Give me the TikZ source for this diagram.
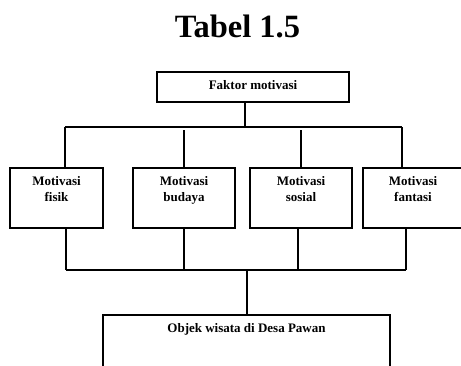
\documentclass[tikz,border=0pt]{standalone}
\usepackage{fontspec}
\setmainfont{Liberation Serif}
\begin{document}
\begin{tikzpicture}[x=1pt,y=-1pt,line width=1.5pt,box/.style={draw,inner sep=0pt},box text/.style={anchor=north,align=center,inner sep=0pt,yshift=-8.5pt,font=\fontsize{13}{16}\selectfont\bfseries}]

	%page frame, bottom box runs off the page
	\useasboundingbox (0,0) rectangle (461,365);
	\clip (0,0) rectangle (461,365);

	%title
	\node[anchor=base, inner sep=0pt, font=\fontsize{32.5}{38}\selectfont\bfseries] (title) at (237.5,37) {Tabel 1.5};

	%boxes
	\node[box, minimum width=192, minimum height=30, label={[box text]north:Faktor motivasi}] (faktor) at (253,87) {};
	\node[box, minimum width=93, minimum height=60, label={[box text]north:Motivasi\\fisik}] (fisik) at (56.5,198) {};
	\node[box, minimum width=102, minimum height=60, label={[box text]north:Motivasi\\budaya}] (budaya) at (184,198) {};
	\node[box, minimum width=102, minimum height=60, label={[box text]north:Motivasi\\sosial}] (sosial) at (301,198) {};
	\node[box, minimum width=100, minimum height=60, label={[box text]north:Motivasi\\fantasi}] (fantasi) at (413,198) {};
	\node[box, minimum width=287, minimum height=85, label={[box text]north:Objek wisata di Desa Pawan}] (objek) at (246.5,357.5) {};

	%upper bus
	\coordinate (topjoin) at (245,127);
	\coordinate (busL) at (65,127);
	\coordinate (busR) at (402,127);
	\draw (faktor.south -| topjoin) -- (topjoin);
	\draw (busL) -- (busR);
	\draw (busL) -- (busL |- fisik.north);
	\draw ([yshift=-3pt]budaya.north |- busL) -- (budaya.north);
	\draw ([yshift=-3pt]sosial.north |- busL) -- (sosial.north);
	\draw (busR) -- (busR |- fantasi.north);

	%lower bus
	\coordinate (lowL) at (66,270);
	\coordinate (lowR) at (406,270);
	\coordinate (lowjoin) at (247,270);
	\draw (fisik.south -| lowL) -- (lowL);
	\draw (budaya.south) -- (budaya.south |- lowL);
	\draw ([xshift=-3pt]sosial.south) -- ([xshift=-3pt]sosial.south |- lowL);
	\draw (fantasi.south -| lowR) -- (lowR);
	\draw (lowL) -- (lowR);
	\draw (lowjoin) -- (lowjoin |- objek.north);

\end{tikzpicture}
\end{document}
